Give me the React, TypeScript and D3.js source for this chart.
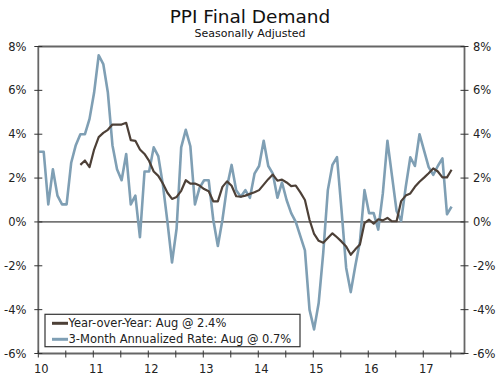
import React from 'react';
import * as d3 from 'd3';

const yearLabels = ['10', '11', '12', '13', '14', '15', '16', '17'];
const yTicks = [8, 6, 4, 2, 0, -2, -4, -6];
const yTickLabels = ['8%', '6%', '4%', '2%', '0%', '-2%', '-4%', '-6%'];

// monthly, first observation Feb 2010, last Aug 2017
const startYear = 2010;
const startMonth = 2;

const threeMonth = [
  3.2, 3.2, 0.8, 2.4, 1.2, 0.8, 0.8, 2.7, 3.5, 4.0, 4.0, 4.7,
  5.9, 7.6, 7.2, 5.9, 3.5, 2.4, 1.9, 3.1, 0.8, 1.2, -0.7, 2.3,
  2.3, 3.4, 3.0, 1.7, 0.0, -1.85, -0.3, 3.4, 4.2, 3.45, 0.8, 1.55,
  1.9, 1.9, 0.1, -1.1, 0.1, 1.6, 2.6, 1.45, 1.15, 1.45, 1.1, 2.2,
  2.55, 3.7, 2.55, 2.2, 1.1, 1.8, 1.0, 0.4, 0.0, -0.65, -1.3, -4.0,
  -4.9, -3.7, -1.4, 1.45, 2.6, 2.95, 0.5, -2.1, -3.2, -2.0, -0.9, 1.45,
  0.4, 0.4, -0.35, 1.3, 3.7, 2.1, 0.5, 0.05, 1.6, 2.95, 2.55, 4.0,
  3.25, 2.5, 2.15, 2.55, 2.9, 0.35, 0.7,
];

const yoy = [
  null, null, null, null, null, null, null, null, null, 2.6, 2.8, 2.5,
  3.3, 3.87, 4.06, 4.2, 4.44, 4.44, 4.44, 4.52, 3.73, 3.7, 3.3, 3.1,
  2.78, 2.3, 2.1, 1.75, 1.33, 1.05, 1.14, 1.42, 1.9, 1.75, 1.75, 1.66,
  1.5, 1.4, 0.94, 0.94, 1.6, 1.85, 1.65, 1.17, 1.15, 1.2, 1.28, 1.35,
  1.45, 1.7, 1.95, 2.16, 1.88, 1.93, 1.8, 1.63, 1.66, 1.35, 1.0, 0.1,
  -0.55, -0.86, -0.95, -0.73, -0.52, -0.7, -0.9, -1.12, -1.5, -1.25, -1.03, -0.05,
  0.1, -0.08, 0.12, 0.07, 0.18, 0.03, 0.03, 0.95, 1.2, 1.3, 1.6, 1.83,
  2.02, 2.22, 2.44, 2.3, 2.03, 2.03, 2.38,
];

const legendLabels = [
  'Year-over-Year: Aug @ 2.4%',
  '3-Month Annualized Rate: Aug @ 0.7%',
];

const COLOR_YOY = '#4d4037';
const COLOR_3M = '#7f9fb4';
const FONT = 'DejaVu Sans, Verdana, sans-serif';

export default function App() {
  const W = 500;
  const H = 376;
  const left = 38.3;
  const right = 464.5;
  const top = 46.5;
  const bottom = 353.5;

  const x = d3.scaleLinear().domain([2010, 2017.75]).range([left, right]);
  const y = d3.scaleLinear().domain([-6, 8]).range([bottom, top]);

  const tOf = (i: number) => {
    const m = startMonth - 1 + i;
    return startYear + (m - 0.82) / 12;
  };

  const line = d3
    .line<number | null>()
    .defined((d) => d !== null)
    .x((_, i) => x(tOf(i)))
    .y((d) => y(d as number));

  const years = d3.range(2010, 2018);
  const halfYears = d3.range(2010.5, 2018, 1);
  const allXTicks = [...years, ...halfYears].filter((t) => t <= 2017.75);

  const axisColor = '#666';
  const textColor = '#222';

  return (
    <svg
      width={W}
      height={H}
      style={{ position: 'absolute', left: 0, top: 0, background: '#fff' }}
      fontFamily={FONT}
    >
      <rect x={0} y={0} width={W} height={H} fill="#fff" />
      <text x={250} y={22.5} textAnchor="middle" fontSize={18.5} fill="#111">
        PPI Final Demand
      </text>
      <text x={250} y={36.7} textAnchor="middle" fontSize={11} fill="#111">
        Seasonally Adjusted
      </text>

      {/* zero line */}
      <line x1={left} x2={right} y1={y(0)} y2={y(0)} stroke="#111" strokeWidth={1} />

      {/* series */}
      <path d={line(threeMonth) || ''} fill="none" stroke={COLOR_3M} strokeWidth={2.6} strokeLinejoin="round" />
      <path d={line(yoy) || ''} fill="none" stroke={COLOR_YOY} strokeWidth={2.2} strokeLinejoin="round" />

      {/* frame */}
      <line x1={left} x2={right} y1={top} y2={top} stroke={axisColor} strokeWidth={1.8} />
      <line x1={left} x2={left} y1={top} y2={bottom} stroke={axisColor} strokeWidth={1.8} />
      <line x1={right} x2={right} y1={top} y2={bottom} stroke={axisColor} strokeWidth={1.8} />
      <line x1={left} x2={right} y1={bottom} y2={bottom} stroke={axisColor} strokeWidth={1.8} />

      {/* y ticks */}
      {yTicks.map((v, i) => (
        <g key={'yt' + v}>
          <line x1={left - 4} x2={left + 4} y1={y(v)} y2={y(v)} stroke="#333" strokeWidth={1} />
          <line x1={right - 4} x2={right + 4} y1={y(v)} y2={y(v)} stroke="#333" strokeWidth={1} />
          <text x={26.5} y={y(v) + 4} textAnchor="end" fontSize={11.5} fill={textColor}>
            {yTickLabels[i]}
          </text>
          <text x={473} y={y(v) + 4} textAnchor="start" fontSize={11.5} fill={textColor}>
            {yTickLabels[i]}
          </text>
        </g>
      ))}

      {/* x ticks */}
      {allXTicks.map((t) => (
        <line key={'xt' + t} x1={x(t)} x2={x(t)} y1={bottom - 3} y2={bottom + 4} stroke="#333" strokeWidth={1} />
      ))}
      {years.map((yr, i) => (
        <text key={'xl' + yr} x={x(yr) + 3} y={373} textAnchor="middle" fontSize={11.5} fill={textColor}>
          {yearLabels[i]}
        </text>
      ))}

      {/* legend */}
      <rect x={45} y={314.3} width={255} height={32.4} fill="#fff" stroke="#333" strokeWidth={1.2} />
      {[COLOR_YOY, COLOR_3M].map((c, i) => (
        <g key={'lg' + i}>
          <line x1={52} x2={68} y1={323.3 + i * 16} y2={323.3 + i * 16} stroke={c} strokeWidth={3} />
          <text x={68.5} y={327.3 + i * 16} fontSize={11.5} fill={textColor}>
            {legendLabels[i]}
          </text>
        </g>
      ))}
    </svg>
  );
}
